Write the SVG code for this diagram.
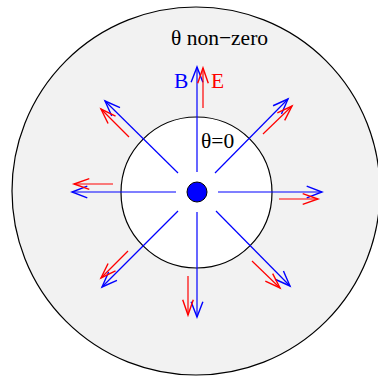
<svg xmlns="http://www.w3.org/2000/svg" width="378" height="377" viewBox="0 0 378 377">
<defs>
<marker id="ab" markerUnits="userSpaceOnUse" markerWidth="20" markerHeight="20" refX="0" refY="0" viewBox="-15 -8 17 16" orient="auto" overflow="visible">
<path d="M-13,-5 L0,0 L-13,5" fill="none" stroke="#0000ff" stroke-width="1.2"/>
</marker>
<marker id="ar" markerUnits="userSpaceOnUse" markerWidth="20" markerHeight="20" refX="0" refY="0" viewBox="-15 -8 17 16" orient="auto" overflow="visible">
<path d="M-13,-4.5 L0,0 L-13,4.5" fill="none" stroke="#ff0000" stroke-width="1.2"/>
</marker>
</defs>
<style>
.txt{font-family:"Liberation Serif","Times New Roman",serif;font-size:21.5px}
.b{stroke:#0000ff;stroke-width:1.2;fill:none;marker-end:url(#ab)}
.r{stroke:#ff0000;stroke-width:1.2;fill:none;marker-end:url(#ar)}
</style>
<rect width="378" height="377" fill="#ffffff"/>
<g id="outer">
<circle cx="196" cy="191" r="184" fill="#f2f2f2" stroke="#000" stroke-width="1.2"/>
<text class="txt" x="171" y="45" fill="#000">θ non−zero</text>
</g>
<g id="inner">
<circle cx="196.5" cy="192.5" r="75.5" fill="#ffffff" stroke="#000" stroke-width="1.2"/>
<text class="txt" x="201" y="148" fill="#000">θ=0</text>
</g>
<g id="connectors">
<line class="b" x1="197" y1="172" x2="197" y2="67"/>
<line class="b" x1="197" y1="212" x2="197" y2="317"/>
<line class="b" x1="218" y1="192" x2="322" y2="192"/>
<line class="b" x1="176" y1="192" x2="72" y2="192"/>
<line class="b" x1="178" y1="173" x2="105" y2="101"/>
<line class="b" x1="215" y1="173" x2="288" y2="99"/>
<line class="b" x1="178" y1="211" x2="102" y2="287"/>
<line class="b" x1="216" y1="211" x2="290" y2="286"/>
<line class="r" x1="203" y1="108" x2="203" y2="68"/>
<line class="r" x1="188" y1="276" x2="188" y2="315"/>
<line class="r" x1="279" y1="199" x2="318" y2="199"/>
<line class="r" x1="113" y1="184" x2="74" y2="184"/>
<line class="r" x1="129" y1="137" x2="101" y2="109"/>
<line class="r" x1="263" y1="134" x2="292" y2="106"/>
<line class="r" x1="128" y1="251" x2="101" y2="278"/>
<line class="r" x1="252" y1="261" x2="280" y2="288"/>
</g>
<g id="labels">
<text class="txt" x="174" y="88" fill="#0000ff">B</text>
<text class="txt" x="211" y="88" fill="#ff0000">E</text>
</g>
<g id="charge">
<circle cx="197" cy="192" r="10" fill="#0000ff" stroke="#000" stroke-width="1"/>
</g>
</svg>
